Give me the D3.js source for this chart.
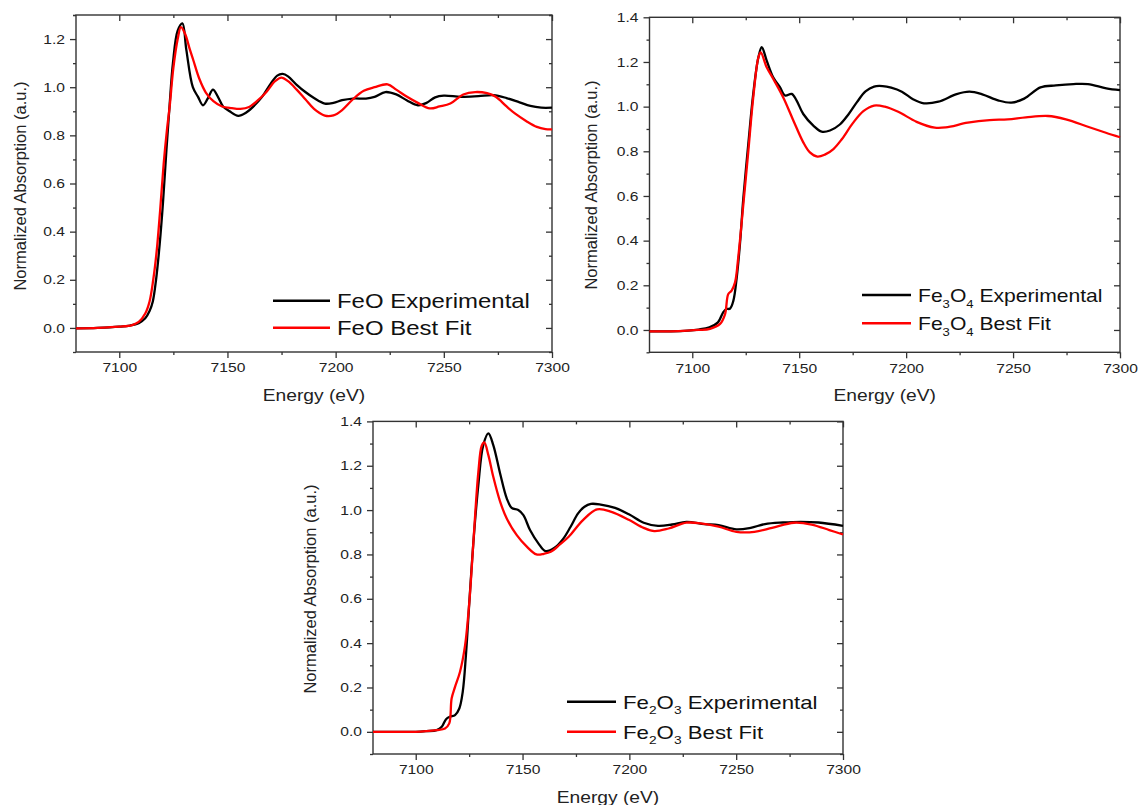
<!DOCTYPE html>
<html>
<head>
<meta charset="utf-8">
<script src="https://cdn.jsdelivr.net/npm/d3@7"></script>
<style>
    body { margin: 0; background: #fff; }
    svg { display: block; }
    .tick text { font-family: "Liberation Sans", Arial, sans-serif; font-size: 13px; fill: #222; }
</style>
</head>
<body>
<div id="chart"></div>
<script>
// ---- data ----
const xMajor = [7100, 7150, 7200, 7250, 7300];
const xMinor = [7125, 7175, 7225, 7275];

const feoExpE = [7080, 7090, 7100, 7105, 7109, 7112, 7114, 7115.5, 7117, 7118.7, 7120.2, 7121.8, 7123.3, 7124.8, 7127, 7129.2,
    7131, 7134, 7136.4, 7138.7, 7141, 7143.3, 7145.6, 7148, 7151, 7155, 7158.7, 7162, 7166, 7170, 7173, 7175.5, 7178, 7182, 7186,
    7190, 7195, 7199, 7203, 7208, 7214, 7218, 7223, 7228, 7233, 7238, 7242, 7246, 7250, 7258, 7266, 7273, 7279, 7285,
    7290, 7295, 7300];
const feoExp = [-0.002, 0, 0.005, 0.01, 0.02, 0.04, 0.07, 0.11, 0.2, 0.35, 0.52, 0.74, 0.93, 1.1, 1.235, 1.265,
    1.155, 1.0, 0.96, 0.925, 0.955, 0.99, 0.96, 0.92, 0.9, 0.881, 0.895, 0.92, 0.96, 1.015, 1.048, 1.055, 1.045, 1.01, 0.98,
    0.955, 0.932, 0.935, 0.946, 0.953, 0.953, 0.96, 0.98, 0.97, 0.945, 0.925, 0.935, 0.958, 0.965, 0.96, 0.963, 0.967,
    0.955, 0.937, 0.922, 0.915, 0.915];
const feoFitE = [7080, 7090, 7100, 7106, 7109, 7112, 7114, 7115.7, 7117.3, 7118.9, 7120.5, 7122, 7123.3, 7125, 7127, 7128.5,
    7130.5, 7132.5, 7134.3, 7137, 7140, 7143.5, 7147.5, 7152, 7156, 7160, 7164, 7168, 7172, 7175, 7178, 7182, 7186, 7190,
    7195, 7199, 7203, 7208, 7213, 7218, 7224, 7228, 7233, 7238, 7243.5, 7248, 7253, 7259, 7264.5, 7270, 7274, 7279, 7283,
    7288, 7293, 7297, 7300];
const feoFit = [-0.002, 0, 0.005, 0.012, 0.025, 0.06, 0.11, 0.2, 0.32, 0.49, 0.68, 0.82, 0.92, 1.08, 1.2, 1.25,
    1.22, 1.16, 1.11, 1.035, 0.978, 0.942, 0.92, 0.913, 0.91, 0.918, 0.945, 0.98, 1.025, 1.04, 1.025, 0.99, 0.95, 0.91,
    0.882, 0.883, 0.905, 0.95, 0.985, 1.0, 1.012, 0.99, 0.96, 0.935, 0.912, 0.92, 0.932, 0.97, 0.98, 0.975, 0.96, 0.92,
    0.89, 0.86, 0.835, 0.826, 0.825];

const fe3o4ExpE = [7080, 7090, 7098, 7103, 7108, 7112, 7114.5, 7116, 7117.6, 7119.2, 7120.8, 7122.3, 7123.9, 7126.2, 7128.5,
    7130.9, 7132.5, 7134.8, 7137.9, 7141, 7143.4, 7146.5, 7148.8, 7151.9, 7156.6, 7160.5, 7164.4, 7169, 7173, 7177, 7181,
    7185, 7189, 7193, 7198, 7203.2, 7208.3, 7215.1, 7223.6, 7229.6, 7235.6, 7243.3, 7249.2, 7255.2, 7262.8, 7270, 7278.2,
    7285, 7293.6, 7300];
const fe3o4Exp = [-0.006, -0.006, -0.003, 0.002, 0.012, 0.034, 0.08, 0.094, 0.095, 0.13, 0.236, 0.385, 0.594, 0.833, 1.057,
    1.22, 1.266, 1.206, 1.13, 1.087, 1.05, 1.057, 1.027, 0.967, 0.915, 0.888, 0.893, 0.92, 0.965, 1.02, 1.068,
    1.09, 1.092, 1.085, 1.067, 1.033, 1.015, 1.022, 1.056, 1.067, 1.055, 1.027, 1.018, 1.036, 1.086, 1.095, 1.101,
    1.101, 1.082, 1.074];
const fe3o4FitE = [7080, 7090, 7098, 7103, 7108.3, 7113, 7115.3, 7116.8, 7118.4, 7120, 7121.5, 7123.9, 7126.2, 7128.5,
    7130.9, 7132, 7134.8, 7137.9, 7142.6, 7147.3, 7151.9, 7155, 7158.5, 7162, 7166, 7170, 7175, 7180, 7185, 7190, 7196.3,
    7204.9, 7213.4, 7218.5, 7228.8, 7239, 7247.5, 7256, 7266.3, 7274.7, 7285, 7293.4, 7300];
const fe3o4Fit = [-0.006, -0.006, -0.003, 0, 0.005, 0.027, 0.07, 0.16, 0.176, 0.213, 0.325, 0.564, 0.8, 1.04,
    1.22, 1.243, 1.176, 1.124, 1.04, 0.937, 0.84, 0.795, 0.776, 0.785, 0.81, 0.855, 0.925, 0.98, 1.005, 1.0, 0.977,
    0.932, 0.906, 0.907, 0.928, 0.94, 0.943, 0.952, 0.958, 0.943, 0.91, 0.883, 0.863];

const fe2o3ExpE = [7080, 7100, 7105, 7109.8, 7112.2, 7114.2, 7116, 7118.4, 7120.4, 7122, 7123.5, 7125.1, 7127, 7129.3,
    7131.6, 7134, 7136.3, 7139.5, 7142.6, 7144.9, 7148, 7150.4, 7153.5, 7157.4, 7160.7, 7165, 7169, 7172.5, 7176,
    7179, 7182, 7186.6, 7193.3, 7200, 7206.7, 7213.4, 7220, 7226.7, 7235.1, 7241.8, 7250.1, 7256.8, 7263.5, 7271.9, 7280.2,
    7288.6, 7300];
const fe2o3Exp = [0, 0, 0.003, 0.008, 0.023, 0.057, 0.068, 0.075, 0.105, 0.18, 0.346, 0.586, 0.857, 1.113,
    1.293, 1.346, 1.293, 1.165, 1.053, 1.01, 1.0, 0.977, 0.91, 0.85, 0.815, 0.83, 0.87, 0.925, 0.985,
    1.015, 1.028, 1.025, 1.01, 0.98, 0.943, 0.929, 0.935, 0.947, 0.937, 0.932, 0.913, 0.92, 0.937, 0.944, 0.947,
    0.944, 0.929];
const fe2o3FitE = [7080, 7100, 7105, 7109.8, 7113.7, 7115.7, 7116.8, 7118.4, 7120.7, 7123.1, 7125.1, 7127, 7129.3, 7130.9,
    7132.1, 7134, 7136.3, 7139.5, 7142.6, 7147.3, 7152, 7156.5, 7160, 7163.2, 7167.5, 7171.6, 7178.3, 7184.9, 7191.6,
    7200, 7206.7, 7211.7, 7218.4, 7226.7, 7233.4, 7241.8, 7250.1, 7258.5, 7266.8, 7277, 7285.3, 7293.6, 7300];
const fe2o3Fit = [0, 0, 0.003, 0.008, 0.015, 0.038, 0.15, 0.203, 0.27, 0.39, 0.586, 0.857, 1.17, 1.29,
    1.305, 1.248, 1.15, 1.038, 0.962, 0.887, 0.835, 0.8, 0.803, 0.812, 0.845, 0.88, 0.955, 1.003, 0.992,
    0.955, 0.92, 0.905, 0.917, 0.943, 0.94, 0.925, 0.902, 0.902, 0.92, 0.943, 0.935, 0.91, 0.89];

// legend labels: [text, isSubscript]
const feoLabels = [[["FeO Experimental", false]], [["FeO Best Fit", false]]];
const fe3o4Labels = [
    [["Fe", false], ["3", true], ["O", false], ["4", true], [" Experimental", false]],
    [["Fe", false], ["3", true], ["O", false], ["4", true], [" Best Fit", false]]
];
const fe2o3Labels = [
    [["Fe", false], ["2", true], ["O", false], ["3", true], [" Experimental", false]],
    [["Fe", false], ["2", true], ["O", false], ["3", true], [" Best Fit", false]]
];

const width = 1142;
const height = 805;
const font = '"Liberation Sans", Arial, sans-serif';
const axisColor = "#333";

let svg = d3.select("#chart")
    .append("svg")
    .attr("width", width)
    .attr("height", height);

// widen text horizontally, the source picture is stretched
function stretch(sel, k) {
    sel.each(function () {
        let w = this.getComputedTextLength();
        d3.select(this)
            .attr("textLength", w * k)
            .attr("lengthAdjust", "spacingAndGlyphs");
    });
}

function drawPanel(p) {
    let g = svg.append("g").attr("class", "panel");

    let xScale = d3.scaleLinear()
        .domain([7080, 7300])
        .range([p.left, p.right]);

    let yScale = d3.scaleLinear()
        .domain([-0.1, p.yMax])
        .range([p.bottom, p.top]);

    let yMajor = d3.range(0, p.yMax + 0.001, 0.2).filter(function (d) { return d <= p.yLabelMax + 0.001; });
    let yMinor = d3.range(-0.1, p.yMax + 0.001, 0.1).filter(function (d) {
        return Math.abs(Math.round(d * 10) % 2) === 1;
    });
    if (p.yMax > p.yLabelMax + 0.05) yMinor.push(p.yMax);

    function styleAxis(a) {
        a.select(".domain").remove();
        a.selectAll(".tick line").attr("stroke", axisColor).attr("stroke-width", 1.3);
    }

    // bottom (outward) with labels
    g.append("g")
        .attr("transform", "translate(0," + p.bottom + ")")
        .call(d3.axisBottom(xScale).tickValues(xMajor).tickSize(6).tickPadding(5).tickFormat(d3.format("d")))
        .call(styleAxis);
    g.append("g")
        .attr("transform", "translate(0," + p.bottom + ")")
        .call(d3.axisBottom(xScale).tickValues(xMinor).tickSize(3).tickFormat(""))
        .call(styleAxis);
    // top (inward)
    g.append("g")
        .attr("transform", "translate(0," + p.top + ")")
        .call(d3.axisBottom(xScale).tickValues(xMajor).tickSize(6).tickFormat(""))
        .call(styleAxis);
    g.append("g")
        .attr("transform", "translate(0," + p.top + ")")
        .call(d3.axisBottom(xScale).tickValues(xMinor).tickSize(3).tickFormat(""))
        .call(styleAxis);
    // left (outward) with labels
    g.append("g")
        .attr("transform", "translate(" + p.left + ",0)")
        .call(d3.axisLeft(yScale).tickValues(yMajor).tickSize(6).tickPadding(5).tickFormat(d3.format(".1f")))
        .call(styleAxis);
    g.append("g")
        .attr("transform", "translate(" + p.left + ",0)")
        .call(d3.axisLeft(yScale).tickValues(yMinor).tickSize(3).tickFormat(""))
        .call(styleAxis);
    // right (inward)
    g.append("g")
        .attr("transform", "translate(" + p.right + ",0)")
        .call(d3.axisLeft(yScale).tickValues(yMajor).tickSize(6).tickFormat(""))
        .call(styleAxis);
    g.append("g")
        .attr("transform", "translate(" + p.right + ",0)")
        .call(d3.axisLeft(yScale).tickValues(yMinor).tickSize(3).tickFormat(""))
        .call(styleAxis);

    stretch(g.selectAll(".tick text"), 1.2);

    // frame
    g.append("rect")
        .attr("x", p.left)
        .attr("y", p.top)
        .attr("width", p.right - p.left)
        .attr("height", p.bottom - p.top)
        .attr("fill", "none")
        .attr("stroke", axisColor)
        .attr("stroke-width", 1.4);

    // curves
    let line = d3.line()
        .x(function (d) { return xScale(d[0]); })
        .y(function (d) { return yScale(d[1]); })
        .curve(d3.curveCatmullRom.alpha(0.5));

    p.series.forEach(function (s) {
        g.append("path")
            .datum(d3.zip(s.e, s.v))
            .attr("fill", "none")
            .attr("stroke", s.color)
            .attr("stroke-width", 2.3)
            .attr("stroke-linejoin", "round")
            .attr("d", line);
    });

    // axis titles
    let xt = g.append("text")
        .attr("x", (p.left + p.right) / 2)
        .attr("y", p.bottom + 49)
        .attr("text-anchor", "middle")
        .attr("font-family", font)
        .attr("font-size", 16)
        .attr("fill", "#222")
        .text("Energy (eV)");
    stretch(xt, 1.2);

    g.append("text")
        .attr("transform", "translate(" + p.ytX + "," + p.ytY + ") rotate(-90)")
        .attr("dy", "0.35em")
        .attr("text-anchor", "middle")
        .attr("font-family", font)
        .attr("font-size", 16.5)
        .attr("fill", "#222")
        .text("Normalized Absorption (a.u.)");

    // legend
    p.series.forEach(function (s, i) {
        let y = p.legY + i * p.legGap;
        g.append("line")
            .attr("x1", p.legX)
            .attr("x2", p.legX + p.legLen)
            .attr("y1", y)
            .attr("y2", y)
            .attr("stroke", s.color)
            .attr("stroke-width", 2.6);

        let t = g.append("text")
            .attr("x", p.legX + p.legLen + 7)
            .attr("y", y + p.legFont * 0.36)
            .attr("font-family", font)
            .attr("font-size", p.legFont)
            .attr("fill", "#111");
        s.label.forEach(function (part, j) {
            let prevSub = j > 0 && s.label[j - 1][1];
            let ts = t.append("tspan").text(part[0]);
            if (part[1]) {
                ts.attr("font-size", p.legFont * 0.62).attr("dy", p.legFont * 0.3);
            } else if (prevSub) {
                ts.attr("dy", -p.legFont * 0.3);
            }
        });
        stretch(t, p.legK);
    });
}

drawPanel({
    left: 76, right: 552, top: 15, bottom: 352, yMax: 1.3, yLabelMax: 1.2,
    ytX: 20.5, ytY: 186,
    legX: 273, legY: 300.7, legGap: 27, legLen: 57, legFont: 21, legK: 1.14,
    series: [
        {e: feoExpE, v: feoExp, color: "#000", label: feoLabels[0]},
        {e: feoFitE, v: feoFit, color: "#ff0000", label: feoLabels[1]}
    ]
});

drawPanel({
    left: 649.5, right: 1120, top: 17.3, bottom: 352.3, yMax: 1.4, yLabelMax: 1.4,
    ytX: 591, ytY: 185,
    legX: 862, legY: 295, legGap: 28.3, legLen: 49, legFont: 19, legK: 1.11,
    series: [
        {e: fe3o4ExpE, v: fe3o4Exp, color: "#000", label: fe3o4Labels[0]},
        {e: fe3o4FitE, v: fe3o4Fit, color: "#ff0000", label: fe3o4Labels[1]}
    ]
});

drawPanel({
    left: 373, right: 843, top: 421.4, bottom: 754, yMax: 1.4, yLabelMax: 1.4,
    ytX: 310.5, ytY: 589,
    legX: 567, legY: 701.7, legGap: 30, legLen: 49, legFont: 19, legK: 1.17,
    series: [
        {e: fe2o3ExpE, v: fe2o3Exp, color: "#000", label: fe2o3Labels[0]},
        {e: fe2o3FitE, v: fe2o3Fit, color: "#ff0000", label: fe2o3Labels[1]}
    ]
});
</script>
</body>
</html>
